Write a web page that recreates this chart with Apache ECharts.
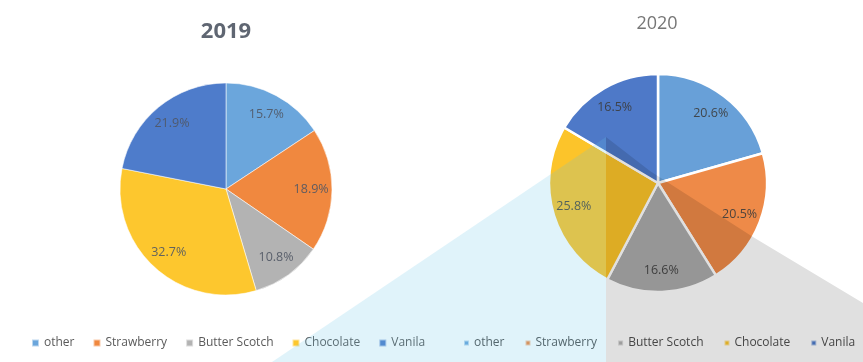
<!DOCTYPE html>
<html>
<head>
<meta charset="utf-8">
<script src="https://cdn.jsdelivr.net/npm/echarts@6/dist/echarts.min.js"></script>
<style>
html,body{margin:0;padding:0;background:#fff;}
#chart{width:863px;height:362px;}
</style>
</head>
<body>
<div id="chart"></div>
<script>
var categories = ['other', 'Strawberry', 'Butter Scotch', 'Chocolate', 'Vanila'];
var values2019 = [15.7, 18.9, 10.8, 32.7, 21.9];
var values2020 = [20.6, 20.5, 16.6, 25.8, 16.5];
var colors2019 = ['#6BA6DC', '#F0883F', '#B3B3B3', '#FDC72E', '#4E7CCB'];
var colors2020 = ['#68A0D8', '#EE8A48', '#ABABAB', '#FCC42A', '#4E79C8'];
var titles = ['2019', '2020'];

function mkData(vals, cols) {
  return categories.map(function (c, i) {
    return { name: c, value: vals[i], itemStyle: { color: cols[i] } };
  });
}

var labelFont = { fontFamily: 'Open Sans', fontSize: 12.5 };

function mainPie(vals, cols, center, r, border) {
  return {
    type: 'pie', center: center, radius: [0, r], startAngle: 90, clockwise: true,
    data: mkData(vals, cols), label: { show: false }, labelLine: { show: false },
    itemStyle: border, emphasis: { disabled: true }, animation: false, z: 2
  };
}
function labelPie(vals, center, r, color) {
  return {
    type: 'pie', center: center, radius: [r * 0.55, r], startAngle: 90, clockwise: true,
    data: categories.map(function (c, i) { return { name: c, value: vals[i] }; }),
    itemStyle: { color: 'rgba(0,0,0,0)' }, silent: true, legendHoverLink: false,
    label: { show: true, position: 'inside', formatter: function (p) { return p.value.toFixed(1) + '%'; },
      color: color, fontFamily: labelFont.fontFamily, fontSize: labelFont.fontSize },
    labelLine: { show: false }, emphasis: { disabled: true }, animation: false, z: 2
  };
}

var chart = echarts.init(document.getElementById('chart'), null, { renderer: 'canvas' });
chart.setOption({
  backgroundColor: '#ffffff',
  animation: false,
  title: [
    { text: titles[0], left: 226, top: 21, textAlign: 'center', padding: 0,
      textStyle: { fontFamily: 'Open Sans', fontWeight: 'bold', fontSize: 22, lineHeight: 22, color: '#5F6672' } },
    { text: titles[1], left: 657, top: 15, textAlign: 'center', padding: 0,
      textStyle: { fontFamily: 'Open Sans', fontWeight: 'normal', fontSize: 18, lineHeight: 18, color: '#767676' } }
  ],
  legend: [
    { data: categories, left: 31, top: 337, orient: 'horizontal', itemGap: 18, itemWidth: 7, itemHeight: 7,
      icon: 'rect', padding: 0, selectedMode: false,
      textStyle: { fontFamily: 'Open Sans', fontSize: 12, color: '#5A5A5A' } },
    { data: categories, left: 463, top: 337, orient: 'horizontal', itemGap: 20, itemWidth: 5, itemHeight: 5,
      icon: 'rect', padding: 0, selectedMode: false,
      textStyle: { fontFamily: 'Open Sans', fontSize: 12, color: '#505050' } }
  ],
  series: [
    mainPie(values2019, colors2019, [226, 189], 106, { borderColor: 'rgba(255,255,255,0.55)', borderWidth: 1 }),
    mainPie(values2020, colors2020, [658, 183], 109, { borderColor: '#ffffff', borderWidth: 2.5 }),
    labelPie(values2019, [226, 189], 106, 'rgba(80,86,100,0.9)'),
    labelPie(values2020, [658, 183], 109, 'rgba(60,60,60,0.9)')
  ],
  graphic: [
    { type: 'polygon', z: 10, silent: true,
      shape: { points: [[606, 137], [606, 362], [272, 362]] },
      style: { fill: 'rgba(100,195,230,0.2)' } },
    { type: 'polygon', z: 10, silent: true,
      shape: { points: [[606, 137], [650, 171], [753, 237], [863, 303], [863, 362], [606, 362]] },
      style: { fill: 'rgba(0,0,0,0.12)' } }
  ]
});
</script>
</body>
</html>
